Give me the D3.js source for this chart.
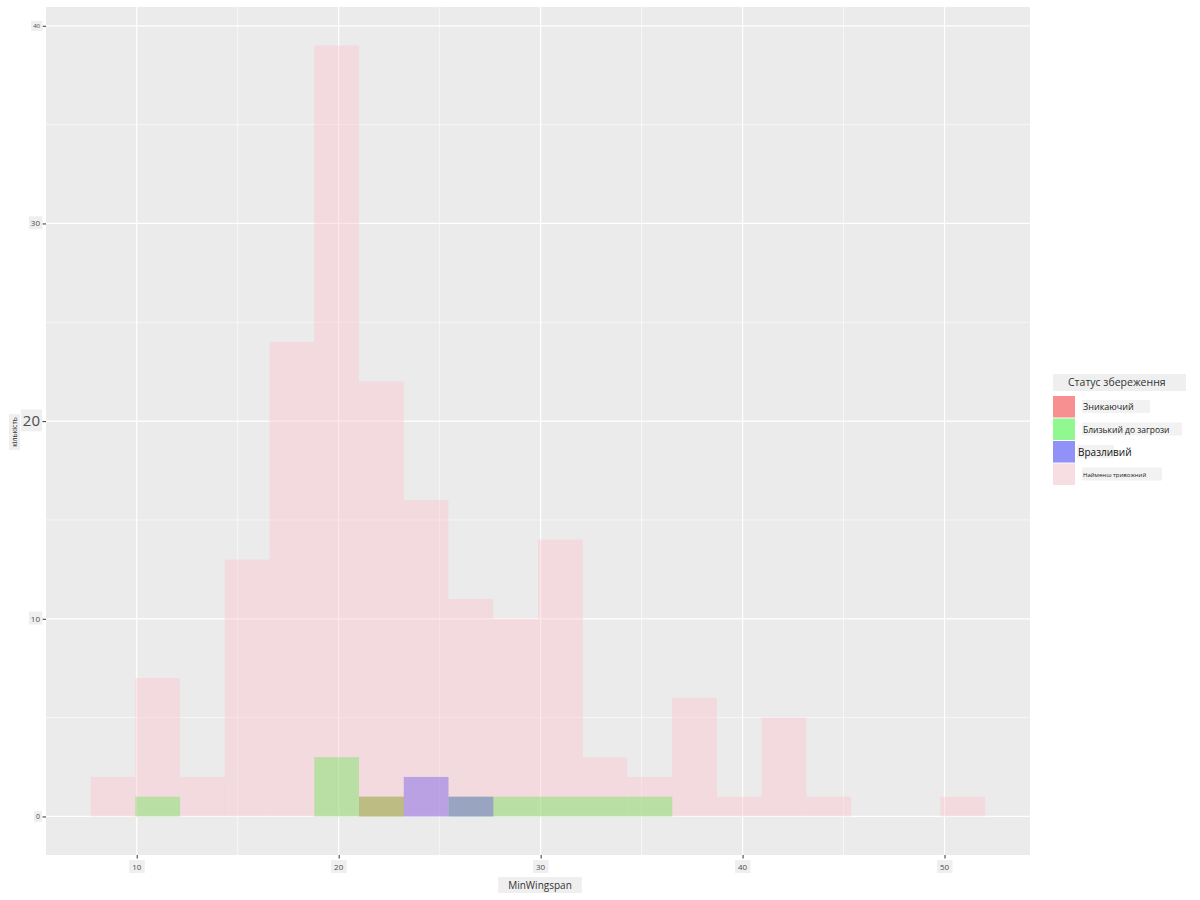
<!DOCTYPE html>
<html>
<head>
<meta charset="utf-8">
<script src="https://cdn.jsdelivr.net/npm/d3@7"></script>
<style>
  body { margin: 0; background: #fff; }
  svg { font-family: "Open Sans", "Noto Sans", sans-serif; }
</style>
</head>
<body>
<svg id="chart" width="1200" height="900"></svg>
<script>
// ---- data ----
const binCenters = [8.83, 11.04, 13.26, 15.47, 17.69, 19.90, 22.12, 24.33, 26.55, 28.76,
                    30.98, 33.19, 35.41, 37.62, 39.84, 42.05, 44.27, 46.48, 48.70, 50.91];
const binWidth = 2.215;
const seriesNames = ["Зникаючий", "Близький до загрози", "Вразливий", "Найменш тривожний"];
const endangered     = [0,0,0,0,0,0,1,0,0,0,0,0,0,0,0,0,0,0,0,0];
const nearThreatened = [0,1,0,0,0,3,1,0,1,1,1,1,1,0,0,0,0,0,0,0];
const vulnerable     = [0,0,0,0,0,0,0,2,1,0,0,0,0,0,0,0,0,0,0,0];
const leastConcern   = [2,7,2,13,24,39,22,16,11,10,14,3,2,6,1,5,1,0,0,1];
const xTicks = [10, 20, 30, 40, 50];
const yTicks = [0, 10, 20, 30, 40];
const xTitle = "MinWingspan";
const yTitle = "кількість";
const legendTitle = "Статус збереження";

const seriesValues = [endangered, nearThreatened, vulnerable, leastConcern];
const seriesColors = ["#ff0000", "#00ff00", "#0000ff", "#ffc0cb"];

// ---- layout ----
const svg = d3.select("#chart");
const panel = {left: 46, right: 1030, top: 7, bottom: 855};

const xMin = binCenters[0] - binWidth / 2, xMax = binCenters[binCenters.length - 1] + binWidth / 2;
const xPad = (xMax - xMin) * 0.05;
const yMaxData = d3.max(leastConcern);
const yPad = yMaxData * 0.05;

const x = d3.scaleLinear().domain([xMin - xPad, xMax + xPad]).range([panel.left, panel.right]);
const y = d3.scaleLinear().domain([-yPad, yMaxData + yPad]).range([panel.bottom, panel.top]);

// panel background
svg.append("rect").attr("x", panel.left).attr("y", panel.top)
  .attr("width", panel.right - panel.left).attr("height", panel.bottom - panel.top)
  .attr("fill", "#ebebeb");

// minor gridlines
const xMinor = [5, 15, 25, 35, 45].filter(v => x(v) > panel.left && x(v) < panel.right);
const yMinor = [5, 15, 25, 35];
const grid = svg.append("g");
grid.selectAll(".xm").data(xMinor).join("line")
  .attr("x1", d => x(d)).attr("x2", d => x(d)).attr("y1", panel.top).attr("y2", panel.bottom)
  .attr("stroke", "#fff").attr("stroke-width", 0.6);
grid.selectAll(".ym").data(yMinor).join("line")
  .attr("y1", d => y(d)).attr("y2", d => y(d)).attr("x1", panel.left).attr("x2", panel.right)
  .attr("stroke", "#fff").attr("stroke-width", 0.6);
// major gridlines
grid.selectAll(".xM").data(xTicks).join("line")
  .attr("x1", d => x(d)).attr("x2", d => x(d)).attr("y1", panel.top).attr("y2", panel.bottom)
  .attr("stroke", "#fff").attr("stroke-width", 1.2);
grid.selectAll(".yM").data(yTicks).join("line")
  .attr("y1", d => y(d)).attr("y2", d => y(d)).attr("x1", panel.left).attr("x2", panel.right)
  .attr("stroke", "#fff").attr("stroke-width", 1.2);

// bars (identity position, alpha overlay)
seriesValues.forEach((vals, si) => {
  svg.append("g").selectAll("rect")
    .data(binCenters.map((c, i) => ({c, v: vals[i]})).filter(d => d.v > 0))
    .join("rect")
    .attr("x", d => x(d.c - binWidth / 2))
    .attr("width", d => x(d.c + binWidth / 2) - x(d.c - binWidth / 2))
    .attr("y", d => y(d.v))
    .attr("height", d => y(0) - y(d.v))
    .attr("fill", seriesColors[si])
    .attr("fill-opacity", 0.4);
});

// helper: text with light box behind
function boxedText(g, txt, attrs, pad) {
  const t = g.append("text").text(txt);
  Object.entries(attrs).forEach(([k, v]) => t.attr(k, v));
  const bb = t.node().getBBox();
  const p = pad || 2;
  g.insert("rect", "text")
    .attr("x", bb.x - p).attr("y", bb.y - 1)
    .attr("width", bb.width + 2 * p).attr("height", bb.height + 2)
    .attr("fill", "#efefef");
  return t;
}

// x axis
const xAxis = svg.append("g").attr("transform", `translate(0,${panel.bottom})`)
  .call(d3.axisBottom(x).tickValues(xTicks).tickSize(3.5).tickFormat(d3.format("d")));
xAxis.select(".domain").remove();
xAxis.selectAll(".tick line").attr("stroke", "#333");
xAxis.selectAll(".tick text").remove();
xTicks.forEach(v => {
  const g = svg.append("g");
  boxedText(g, String(v), {x: x(v), y: 870, "text-anchor": "middle", "font-size": 8, fill: "#4d4d4d"}, 3);
});

// y axis
const yAxis = svg.append("g").attr("transform", `translate(${panel.left},0)`)
  .call(d3.axisLeft(y).tickValues(yTicks).tickSize(3.5).tickFormat(d3.format("d")));
yAxis.select(".domain").remove();
yAxis.selectAll(".tick line").attr("stroke", "#333");
yAxis.selectAll(".tick text").remove();
const ySizes = {0: 7, 10: 8, 20: 15, 30: 8, 40: 6};
yTicks.forEach(v => {
  const g = svg.append("g");
  boxedText(g, String(v), {x: 40, y: y(v), dy: "0.35em", "text-anchor": "end",
    "font-size": ySizes[v], fill: "#4d4d4d"}, 2);
});

// axis titles
boxedText(svg.append("g"), xTitle,
  {x: 540, y: 889, "text-anchor": "middle", "font-size": 10, fill: "#333"}, 10);
boxedText(svg.append("g").attr("transform", "translate(17,432) rotate(-90)"), yTitle,
  {x: 0, y: 0, "text-anchor": "middle", "font-size": 7, fill: "#333"}, 3);

// legend
const lg = svg.append("g");
lg.append("rect").attr("x", 1053).attr("y", 374).attr("width", 133).attr("height", 17).attr("fill", "#efefef");
lg.append("text").attr("x", 1068).attr("y", 386).attr("font-size", 10.5).attr("fill", "#333")
  .text(legendTitle);
const keyH = 22.5;
const labelStyles = [
  {x: 1083, size: 9, w: 68},
  {x: 1083, size: 8.5, w: 100},
  {x: 1078, size: 10, w: 37},
  {x: 1083, size: 6, w: 80}
];
seriesNames.forEach((name, i) => {
  const ky = 396 + i * keyH;
  lg.append("rect").attr("x", 1053).attr("y", ky).attr("width", 22).attr("height", keyH - 1)
    .attr("fill", "#f2f2f2");
  lg.append("rect").attr("x", 1053).attr("y", ky).attr("width", 22).attr("height", keyH - 1)
    .attr("fill", seriesColors[i]).attr("fill-opacity", 0.4);
  const s = labelStyles[i];
  lg.append("rect").attr("x", s.x - 1).attr("y", ky + 4).attr("width", s.w).attr("height", 13)
    .attr("fill", "#f2f2f2");
  lg.append("text").attr("x", s.x).attr("y", ky + keyH / 2).attr("dy", "0.35em")
    .attr("font-size", s.size).attr("fill", i === 2 ? "#111" : "#222").text(name);
});
</script>
</body>
</html>
